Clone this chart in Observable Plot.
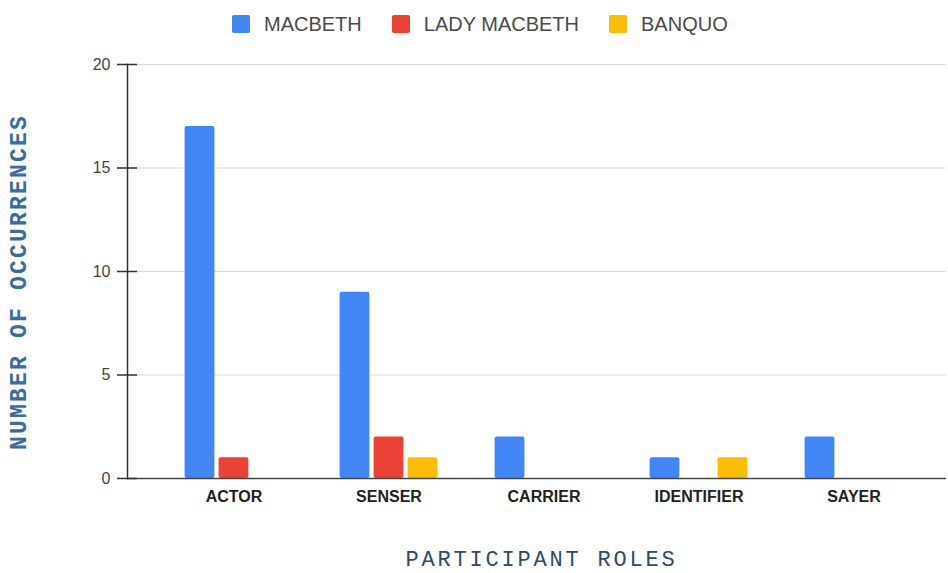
<!DOCTYPE html>
<html><head><meta charset="utf-8">
<script src="https://cdn.jsdelivr.net/npm/d3@7"></script>
<script src="https://cdn.jsdelivr.net/npm/@observablehq/plot@0.6"></script>
<style>
body{margin:0;background:#fff;}
#chart{width:948px;height:573px;position:relative;background:#fff;overflow:hidden;}
#legend{position:absolute;top:0;left:0;width:948px;height:48px;display:flex;align-items:center;font-family:"Liberation Sans",Arial,sans-serif;font-size:20px;color:#4a4a4a;padding-left:232px;box-sizing:border-box;}
.sw{width:18px;height:18px;border-radius:2px;margin-right:14px;flex:none;}
.item{display:flex;align-items:center;margin-right:30px;}
#plot{position:absolute;top:46px;left:0;}
</style></head>
<body><div id="chart"><div id="legend"></div><div id="plot"></div></div>
<script>
const categories = ["ACTOR", "SENSER", "CARRIER", "IDENTIFIER", "SAYER"];
const series = ["MACBETH", "LADY MACBETH", "BANQUO"];
const macbeth = [17, 9, 2, 1, 2];
const ladyMacbeth = [1, 2, 0, 0, 0];
const banquo = [0, 1, 0, 1, 0];
const colors = ["#4285F4", "#EA4335", "#FBBC04"];
const yTicks = [0, 5, 10, 15, 20];
const yTitle = "NUMBER OF OCCURRENCES";
const xTitle = "PARTICIPANT ROLES";

const valuesBySeries = [macbeth, ladyMacbeth, banquo];
const rows = [];
series.forEach((s, i) => categories.forEach((c, j) => rows.push({series: s, category: c, value: valuesBySeries[i][j]})));

// legend
const legend = document.getElementById("legend");
series.forEach((s, i) => {
  const it = document.createElement("div"); it.className = "item";
  const sw = document.createElement("div"); sw.className = "sw"; sw.style.background = colors[i];
  const t = document.createElement("span"); t.textContent = s;
  it.appendChild(sw); it.appendChild(t); legend.appendChild(it);
});

const W = 948, H = 527;
const mL = 127, mR = 2, inL = 28.5, inR = 14.5;
const band = (W - mL - mR - inL - inR) / categories.length;
const barW = 30, gap = 4;
const groupW = barW * series.length + gap * (series.length - 1);
const off0 = (band - groupW) / 2;

const chart = Plot.plot({
  width: W, height: H,
  marginLeft: mL, marginRight: mR, marginTop: 18, marginBottom: 95,
  style: {fontFamily: "'Liberation Sans', Arial, sans-serif", background: "transparent", overflow: "visible"},
  x: {domain: categories, paddingInner: 0, paddingOuter: 0, insetLeft: inL, insetRight: inR, axis: null, label: null},
  y: {domain: [0, 20], axis: null, label: null},
  marks: [
    Plot.ruleY(yTicks.filter(d => d > 0), {stroke: "#d9d9d9", strokeWidth: 1}),
    ...series.map((s, i) => Plot.barY(rows.filter(r => r.series === s && r.value > 0), {
      x: "category", y: "value", fill: colors[i], rx: 2,
      insetLeft: off0 + i * (barW + gap),
      insetRight: band - off0 - i * (barW + gap) - barW
    })),
    Plot.ruleY([0], {stroke: "#444", strokeWidth: 1.5}),
    Plot.frame({anchor: "left", stroke: "#333", strokeWidth: 1.5}),
    Plot.axisY({ticks: yTicks, tickSize: 20, dx: 10, tickFormat: () => "", label: null, stroke: "#333", strokeWidth: 1.5}),
    Plot.axisY({ticks: yTicks, tickSize: 0, tickPadding: 17, label: null, fontSize: 16, color: "#444"}),
    Plot.axisX({tickSize: 0, tickPadding: 12, label: null, fontSize: 16, fontWeight: "bold", color: "#222"}),
    Plot.text([yTitle], {text: d => d, frameAnchor: "left", rotate: -90, dx: -108.5, dy: 10.5, textAnchor: "middle", lineAnchor: "middle",
      fontFamily: "'Liberation Mono', 'Courier New', monospace", fontSize: 23, fontWeight: "bold", fill: "#3b6b9a"}),
    Plot.text([xTitle], {text: d => d, frameAnchor: "bottom", dx: 4.5, dy: 80, textAnchor: "middle", lineAnchor: "middle",
      fontFamily: "'Liberation Mono', 'Courier New', monospace", fontSize: 22, fill: "#2e4b6b"})
  ]
});
document.getElementById("plot").appendChild(chart);
d3.select(chart).selectAll("text").filter(function() { return this.textContent === yTitle; }).style("letter-spacing", "2.2px");
d3.select(chart).selectAll("text").filter(function() { return this.textContent === xTitle; }).style("letter-spacing", "2.8px");
</script>
</body></html>
